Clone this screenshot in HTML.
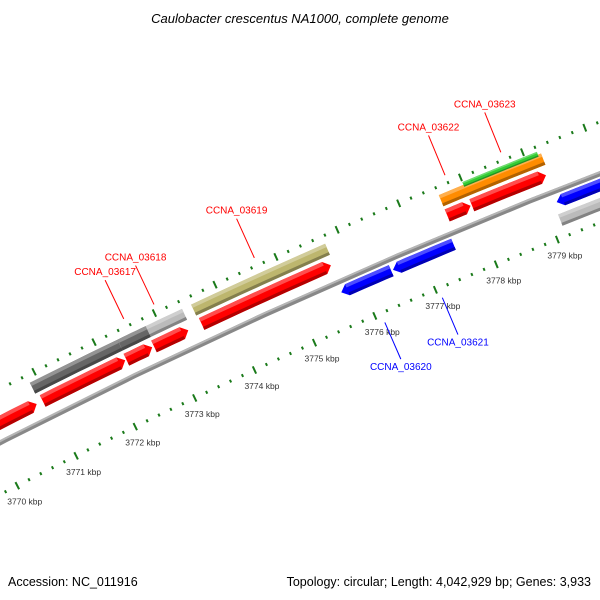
<!DOCTYPE html>
<html><head><meta charset="utf-8"><style>
html,body{margin:0;padding:0;background:#fff}
svg{display:block;font-family:"Liberation Sans",sans-serif}
</style></head><body>
<svg id="map" width="600" height="600" viewBox="0 0 600 600">
<text x="300" y="23" text-anchor="middle" font-size="13" font-style="italic" fill="#000">Caulobacter crescentus NA1000, complete genome</text>
<g id="rings"></g>
<g id="feats"></g>
<g id="labels"></g>
<text x="8" y="586" font-size="12.5" fill="#000">Accession: NC_011916</text>
<text x="591" y="586" text-anchor="end" font-size="12.5" fill="#000">Topology: circular; Length: 4,042,929 bp; Genes: 3,933</text>
</svg>
<script>
// data (kbp)
const tickKbp=[3769,3770,3771,3772,3773,3774,3775,3776,3777,3778,3779,3780];
const featStart=[3769.0,3770.92,3772.32,3772.78,3773.57,3777.6,3778.0,3775.68,3776.53,3779.2,3779.15,3770.87,3772.33,3772.8,3773.55,3777.6,3778.0];
const featEnd  =[3770.82,3772.3,3772.75,3773.35,3775.7,3777.98,3779.2,3776.5,3777.52,3780.8,3780.8,3772.33,3772.8,3773.4,3775.75,3779.25,3779.2];
const featDir  =[1,1,1,1,1,1,1,-1,-1,-1,0,0,0,0,0,0,0];
const featTrack=["fwd","fwd","fwd","fwd","fwd","fwd","fwd","rev","rev","rev","revgray","top","top","top","top","top","green"];
const featColor=["#f00","#f00","#f00","#f00","#f00","#f00","#f00","#00f","#00f","#00f","#bbb","#666","#666","#bbb","#bdb66e","#ff8c00","#3c3"];
const labelNames=["CCNA_03617","CCNA_03618","CCNA_03619","CCNA_03622","CCNA_03623","CCNA_03620","CCNA_03621"];
const labelKbp=[3772.55,3773.05,3774.7,3777.8,3778.7,3776.1,3777.05];
const labelStrand=[1,1,1,1,1,-1,-1];

const NS='http://www.w3.org/2000/svg';
const CX=2897,CY=6089,A0=-116.6*Math.PI/180,K=0.6*Math.PI/180,RIN=6300;
const trackR={fwd:[6364,13],rev:[6335,12],revgray:[6317,12],top:[6380,12],green:[6386.5,5]};
function P(bp,r){const a=A0+(bp-3771)*K;return [CX+r*Math.cos(a),CY+r*Math.sin(a)];}
function mk(tag,attrs,parent){const e=document.createElementNS(NS,tag);for(const k in attrs)e.setAttribute(k,attrs[k]);parent.appendChild(e);return e;}
function pts(a){return a.map(p=>p[0].toFixed(1)+','+p[1].toFixed(1)).join(' ');}
function arc(b0,b1,r){const n=6,o=[];for(let i=0;i<=n;i++)o.push(P(b0+(b1-b0)*i/n,r));return o;}

const rings=document.getElementById('rings');
const bb1=mk('polygon',{points:pts(arc(3768,3781,6348.5).concat(arc(3768,3781,6343.5).reverse())),fill:'#888'},rings);


const bb2=mk('polygon',{points:pts(arc(3768,3781,6348.5).concat(arc(3768,3781,6346.5).reverse())),fill:'#b5b5b5'},rings);


for(const ring of [[RIN,true],[6394,false]]){
  for(let b=3768;b<=3781;b+=0.2){
    const kb=Math.round(b*5)/5, major=Math.abs(kb-Math.round(kb))<1e-6;
    const len=major?4:1.5;
    const p1=P(kb,ring[0]-len),p2=P(kb,ring[0]+len);
    const t=mk('line',{x1:p1[0],y1:p1[1],x2:p2[0],y2:p2[1],stroke:'#1a7a1a','stroke-width':2},rings);
    
    
  }
}
tickKbp.forEach(k=>{
  const p=P(k,RIN);
  const t=mk('text',{x:p[0]-10,y:p[1]+19,'font-size':8.5,fill:'#333'},rings);
  t.textContent=k+' kbp';
  
  
});

const feats=document.getElementById('feats');
function shade(c,f){const h=c.length===4?c.replace(/#(.)(.)(.)/,'#$1$1$2$2$3$3'):c;let r=parseInt(h.substr(1,2),16),g=parseInt(h.substr(3,2),16),b=parseInt(h.substr(5,2),16);
 const m=x=>Math.max(0,Math.min(255,Math.round(f>0?x+(255-x)*f:x*(1+f))));return 'rgb('+m(r)+','+m(g)+','+m(b)+')';}
featStart.forEach((s,i)=>{
  const e=featEnd[i],d=featDir[i],[rc,h]=trackR[featTrack[i]],ro=rc+h/2,ri=rc-h/2,head=0.1;
  let shape,body0=s,body1=e;
  if(d===1){body1=e-head;shape=arc(s,body1,ro).concat([P(e,rc)],arc(s,body1,ri).reverse());}
  else if(d===-1){body0=s+head;shape=[P(s,rc)].concat(arc(body0,e,ro),arc(body0,e,ri).reverse());}
  else shape=arc(s,e,ro).concat(arc(s,e,ri).reverse());
  const g=mk('g',{},feats);
  
  
  mk('polygon',{points:pts(shape),fill:featColor[i]},g);
  mk('polygon',{points:pts(arc(body0,body1,ro).concat(arc(body0,body1,ro-h*0.3).reverse())),fill:shade(featColor[i],0.3)},g);
  mk('polygon',{points:pts(arc(body0,body1,ri+h*0.25).concat(arc(body0,body1,ri).reverse())),fill:shade(featColor[i],-0.3)},g);
});

const labels=document.getElementById('labels');
labelNames.forEach((n,i)=>{
  const st=labelStrand[i],col=st>0?'#f00':'#00f';
  const p1=P(labelKbp[i],st>0?6402:6290),p2=P(labelKbp[i],st>0?6445:6250);
  const l=mk('line',{x1:p1[0],y1:p1[1],x2:p2[0],y2:p2[1],stroke:col,'stroke-width':1},labels);
  
  
  const t=mk('text',{x:p2[0],y:st>0?p2[1]-5:p2[1]+11,'text-anchor':'middle','font-size':10,fill:col},labels);
  t.textContent=n;
  
  
});
</script>
</body></html>
